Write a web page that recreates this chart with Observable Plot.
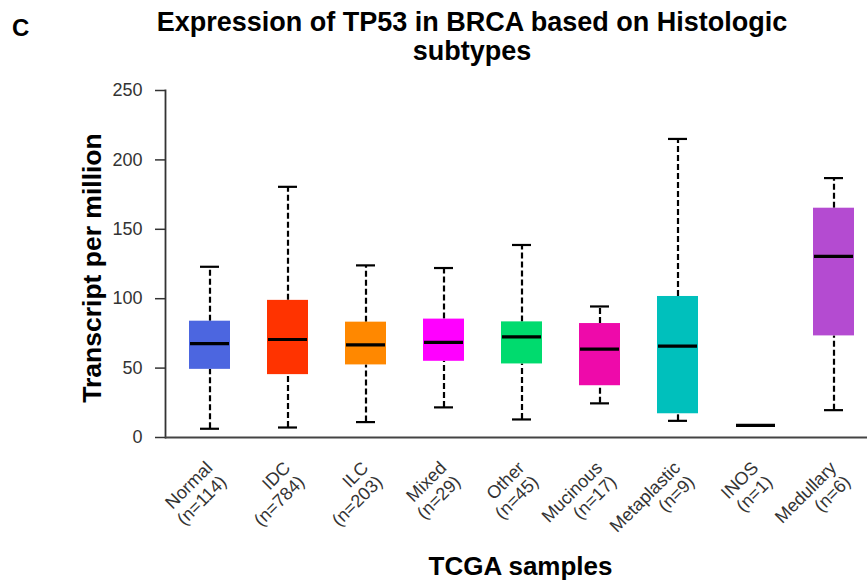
<!DOCTYPE html>
<html>
<head>
<meta charset="utf-8">
<script src="https://cdn.jsdelivr.net/npm/d3@7"></script>
<script src="https://cdn.jsdelivr.net/npm/@observablehq/plot@0.6"></script>
<style>
  html, body { margin: 0; padding: 0; background: #fff; }
  body { font-family: "Liberation Sans", Arial, Helvetica, sans-serif; }
  #wrap { position: relative; width: 867px; height: 583px; overflow: hidden; }
  #panel { position: absolute; left: 12px; top: 14px; font-size: 24px; font-weight: bold; color: #000; }
  #title { position: absolute; left: 72px; width: 800px; top: 8px; text-align: center;
           font-size: 27px; font-weight: bold; line-height: 29px; color: #000; }
  #chart { position: absolute; left: 0; top: 70px; }
</style>
</head>
<body>
<div id="wrap">
  <div id="panel">C</div>
  <div id="title">Expression of TP53 in BRCA based on Histologic<br>subtypes</div>
  <div id="chart"></div>
</div>
<script>
const categories = ["Normal", "IDC", "ILC", "Mixed", "Other", "Mucinous", "Metaplastic", "INOS", "Medullary"];
const sampleCounts = [114, 784, 203, 29, 45, 17, 9, 1, 6];
const whiskerLow  = [6.3, 7.2, 11.1, 21.7, 13.0, 24.6, 12.0, 8.7, 19.7];
const q1          = [49.1, 45.3, 52.3, 54.9, 53.0, 37.3, 17.1, 8.7, 73.2];
const medians     = [67.7, 70.6, 66.7, 68.6, 72.5, 63.6, 65.8, 8.7, 130.5];
const q3          = [83.8, 98.8, 83.1, 85.3, 83.3, 82.1, 101.6, 8.7, 165.2];
const whiskerHigh = [123.0, 180.6, 124.0, 122.1, 138.7, 94.4, 215.1, 8.7, 186.9];
const boxColors   = ["#4C66E0", "#FF3300", "#FF8800", "#FF00FF", "#00DB6E", "#EE0AAA", "#00C0BC", "#000000", "#B44BD1"];
const yTicks = [0, 50, 100, 150, 200, 250];

const rows = categories.map((c, i) => ({
  cat: c, n: sampleCounts[i], lo: whiskerLow[i], q1: q1[i], med: medians[i],
  q3: q3[i], hi: whiskerHigh[i], color: boxColors[i]
}));
const spread = rows.filter(d => d.hi > d.lo);

const font = '"Liberation Sans", Arial, Helvetica, sans-serif';

const chart = Plot.plot({
  width: 867,
  height: 513,
  marginTop: 20,
  marginBottom: 146,
  marginLeft: 165,
  marginRight: 0,
  style: { fontFamily: font, background: "#fff", overflow: "visible" },
  x: { type: "band", domain: categories, range: [165, 877], paddingInner: 0.48, paddingOuter: 0.253, axis: null },
  y: { domain: [0, 250], ticks: yTicks, axis: null },
  marks: [
    // whiskers
    Plot.ruleX(spread, { x: "cat", y1: "q3", y2: "hi", stroke: "#000", strokeWidth: 2.2, strokeDasharray: "6,3" }),
    Plot.ruleX(spread, { x: "cat", y1: "lo", y2: "q1", stroke: "#000", strokeWidth: 2.2, strokeDasharray: "6,3" }),
    Plot.tickY(spread, { x: "cat", y: "hi", stroke: "#000", strokeWidth: 2.2, insetLeft: 11, insetRight: 11 }),
    Plot.tickY(spread, { x: "cat", y: "lo", stroke: "#000", strokeWidth: 2.2, insetLeft: 11, insetRight: 11 }),
    // boxes
    Plot.barY(spread, { x: "cat", y1: "q1", y2: "q3", fill: "color" }),
    // medians
    Plot.tickY(rows, { x: "cat", y: "med", stroke: "#000", strokeWidth: 3.2, insetLeft: 1, insetRight: 1 }),
    // axes
    Plot.axisY(yTicks, { tickSize: 10, tickPadding: 13, fontSize: 18, color: "#333", stroke: "#333", strokeWidth: 1.5, label: null }),
    Plot.frame({ anchor: "left", stroke: "#333", strokeWidth: 1.8 }),
    Plot.ruleY([0], { stroke: "#444", strokeWidth: 2 }),
    // x tick labels
    Plot.text(rows, {
      x: "cat", text: d => `${d.cat}\n(n=${d.n})`, frameAnchor: "bottom",
      rotate: -45, textAnchor: "end", lineAnchor: "middle", lineHeight: 1.1,
      dx: 6, dy: 34, fontSize: 18, fill: "#333"
    }),
    // axis titles
    Plot.text(["Transcript per million"], { frameAnchor: "left", textAnchor: "middle", rotate: -90, dx: -73, dy: 4, fontSize: 26.5, fontWeight: "bold", fill: "#000" }),
    Plot.text(["TCGA samples"], { frameAnchor: "bottom", textAnchor: "middle", dx: 4, dy: 137, fontSize: 26, fontWeight: "bold", fill: "#000" })
  ]
});
document.getElementById("chart").appendChild(chart);
</script>
</body>
</html>
